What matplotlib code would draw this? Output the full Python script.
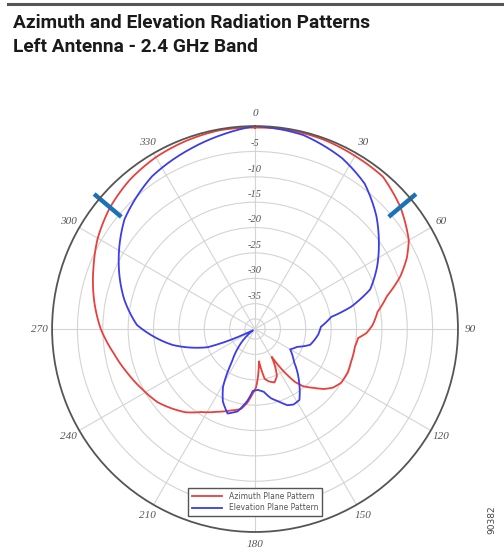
import numpy as np
import matplotlib
matplotlib.use('Agg')
import matplotlib.pyplot as plt
from matplotlib.lines import Line2D

# Azimuth plane pattern (angle in degrees clockwise from top, gain in dB)
az_deg = [0, 10, 20, 30, 40, 50, 55, 60, 65, 70, 76, 82, 88, 92, 95, 100, 109,
          115, 122, 127, 131, 135, 140, 143, 146, 149, 152, 155, 160, 165, 169,
          173, 176, 179, 182, 186, 190, 197, 205, 213, 220, 233, 242, 251, 260,
          270, 280, 291, 300, 310, 320, 330, 340, 350]
az_db = [-0.3, -0.2, -0.3, -0.6, -0.8, -2.6, -3.8, -5.0, -7.0, -9.5, -13.2,
         -15.6, -16.8, -18.0, -19.6, -20.0, -20.0, -19.8, -20.0, -20.8, -22.0,
         -23.6, -25.3, -27.0, -30.0, -33.6, -31.5, -29.8, -28.8, -29.3, -30.0,
         -33.6, -31.0, -28.5, -27.3, -25.4, -24.0, -23.2, -22.0, -20.5, -18.6,
         -16.0, -14.8, -13.4, -11.8, -9.6, -7.8, -5.9, -4.2, -2.7, -1.6, -0.9,
         -0.5, -0.2]

# Elevation plane pattern
el_deg = [0, 14, 27, 37, 47, 55, 63, 71, 77, 81, 88, 95, 106, 113, 120, 130,
          140, 148, 153, 157, 162, 167, 172, 177, 182, 186, 192, 198, 204, 209,
          215, 222, 228, 234, 240, 244, 249, 259, 272, 283, 296, 310, 326, 340,
          350]
el_db = [0.0, -0.6, -2.2, -4.1, -7.3, -10.2, -13.0, -16.0, -20.6, -24.8, -27.0,
         -27.5, -28.7, -31.0, -32.0, -30.0, -26.5, -23.5, -23.3, -23.7, -25.0,
         -26.0, -27.5, -28.0, -27.8, -25.8, -23.4, -22.5, -24.4, -27.0, -32.0,
         -35.0, -37.2, -39.2, -39.5, -38.0, -30.0, -23.5, -16.7, -13.5, -10.1,
         -6.4, -3.7, -2.3, -1.2]

ring_db = [-38, -35, -30, -25, -20, -15, -10, -5]
ring_labels = ['-5', '-10', '-15', '-20', '-25', '-30', '-35']
angle_ticks = list(range(0, 360, 30))
marker_deg = [-50, 50]

fig = plt.figure(figsize=(5.04, 5.56), dpi=100)

# titulo
fig.text(0.026, 0.949, 'Azimuth and Elevation Radiation Patterns',
         family='Roboto', weight='bold', size=13.8, color='#1a1a1a')
fig.text(0.026, 0.906, 'Left Antenna - 2.4 GHz Band',
         family='Roboto', weight='bold', size=13.8, color='#1a1a1a')
fig.add_artist(Line2D([8 / 504, 1.0], [1 - 4 / 556] * 2, color='#555555', lw=2.2))

ax = fig.add_axes([0.1032, 0.0432, 0.8056, 0.730], projection='polar')
ax.set_theta_zero_location('N')
ax.set_theta_direction(-1)
ax.set_ylim(-40, 0)
ax.set_rgrids(ring_db, labels=[])
ax.set_thetagrids(angle_ticks, labels=[])
ax.grid(color='#d4d4d4', lw=0.8)
ax.spines['polar'].set_color('#555555')
ax.spines['polar'].set_linewidth(1.3)

# labels
for val, lab in zip([-5, -10, -15, -20, -25, -30, -35], ring_labels):
    ax.text(0, val + 1.5, lab, ha='center', va='center', style='italic',
            family='Liberation Serif', size=7.5, color='#555555')
for a in angle_ticks:
    ax.text(np.deg2rad(a), 2.4, str(a), ha='center', va='center', style='italic',
            family='Liberation Serif', size=8, color='#555555')

t_az = np.deg2rad(az_deg + [az_deg[0] + 360])
t_el = np.deg2rad(el_deg + [el_deg[0] + 360])
l1, = ax.plot(t_az, az_db + [az_db[0]], color='#e8403c', lw=1.3, label='Azimuth Plane Pattern')
l2, = ax.plot(t_el, el_db + [el_db[0]], color='#3c3ce8', lw=1.3, label='Elevation Plane Pattern')
# trazar segmentos como arcos en coordenadas polares
for l in (l1, l2):
    l.get_path()._interpolation_steps = 20

for m in marker_deg:
    ax.plot([np.deg2rad(m)] * 2, [-5.6, 1.4], color='#1a72b8', lw=3.2,
            solid_capstyle='butt', clip_on=False)

leg = fig.legend(loc='center', bbox_to_anchor=(0.506, 0.097), fontsize=5.5,
                 fancybox=False, edgecolor='#555555', framealpha=1,
                 handlelength=4, borderpad=0.5, labelspacing=0.3)
for t in leg.get_texts():
    t.set_color('#555555')

fig.text(0.975, 0.065, '90382', rotation=90, ha='center', va='center',
         size=6.5, color='#444444')

fig.savefig('out.png', dpi=100)
